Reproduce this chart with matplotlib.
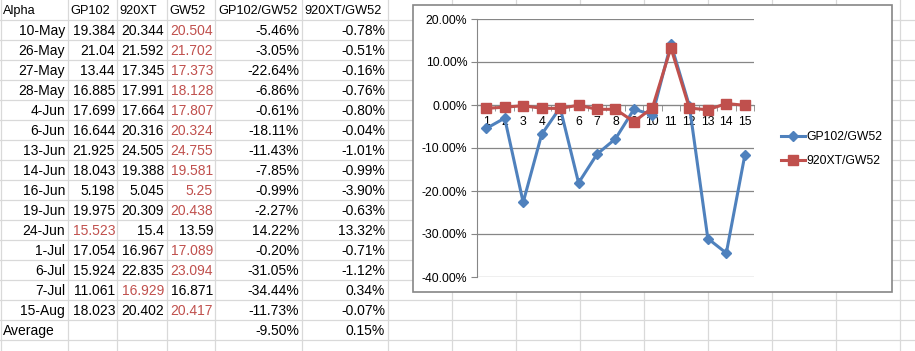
import matplotlib.pyplot as plt
from matplotlib.patches import Rectangle
from matplotlib.ticker import FixedLocator

# table data read from the sheet
dates = ['10-May', '26-May', '27-May', '28-May', '4-Jun', '6-Jun', '13-Jun', '14-Jun',
         '16-Jun', '19-Jun', '24-Jun', '1-Jul', '6-Jul', '7-Jul', '15-Aug']
gp102 = [19.384, 21.04, 13.44, 16.885, 17.699, 16.644, 21.925, 18.043,
         5.198, 19.975, 15.523, 17.054, 15.924, 11.061, 18.023]
xt920 = [20.344, 21.592, 17.345, 17.991, 17.664, 20.316, 24.505, 19.388,
         5.045, 20.309, 15.4, 16.967, 22.835, 16.929, 20.402]
gw52 = [20.504, 21.702, 17.373, 18.128, 17.807, 20.324, 24.755, 19.581,
        5.25, 20.438, 13.59, 17.089, 23.094, 16.871, 20.417]
gp_ratio = [-5.46, -3.05, -22.64, -6.86, -0.61, -18.11, -11.43, -7.85,
            -0.99, -2.27, 14.22, -0.20, -31.05, -34.44, -11.73]
xt_ratio = [-0.78, -0.51, -0.16, -0.76, -0.80, -0.04, -1.01, -0.99,
            -3.90, -0.63, 13.32, -0.71, -1.12, 0.34, -0.07]
avg_gp = -9.50
avg_xt = 0.15
headers = ['Alpha', 'GP102', '920XT', 'GW52', 'GP102/GW52', '920XT/GW52']
yticks = [-40, -30, -20, -10, 0, 10, 20]

plt.rcParams['font.family'] = ['Liberation Sans', 'DejaVu Sans']

W, H = 915, 351
fig = plt.figure(figsize=(W / 100, H / 100), dpi=100)
bg = fig.add_axes([0, 0, 1, 1])
bg.set_xlim(0, W)
bg.set_ylim(H, 0)
bg.axis('off')

# spreadsheet grid
col_edges = [0.5, 68, 117, 166.5, 215, 302, 388, 452, 516, 580, 644, 708, 772, 836, 900]
grid_c = '#d9d9d9'
for x in col_edges:
    bg.plot([x, x], [0, H], color=grid_c, lw=0.9)
for k in range(18):
    y = 19.5 + 20 * k
    bg.plot([0, W], [y, y], color=grid_c, lw=0.9)

red = '#c0504d'
fs = 10
ty = lambda r: r * 20 + 11

# header row (narrower font so the long headers fit like Calibri does)
hx = [3, 70, 119, 169, 218, 304]
for x, h in zip(hx, headers):
    bg.text(x, ty(0), h, ha='left', va='center', fontsize=9.2)

right = [65, 115, 164, 213, 299, 385]
for i in range(len(dates)):
    r = i + 1
    vals = [gp102[i], xt920[i], gw52[i]]
    mx = max(vals)
    bg.text(right[0], ty(r), dates[i], ha='right', va='center', fontsize=fs)
    for j, v in enumerate(vals):
        bg.text(right[j + 1], ty(r), str(v), ha='right', va='center', fontsize=fs,
                color=red if v == mx else 'black')
    bg.text(right[4], ty(r), f'{gp_ratio[i]:.2f}%', ha='right', va='center', fontsize=fs)
    bg.text(right[5], ty(r), f'{xt_ratio[i]:.2f}%', ha='right', va='center', fontsize=fs)

r = len(dates) + 1
bg.text(3, ty(r), 'Average', ha='left', va='center', fontsize=fs)
bg.text(right[4], ty(r), f'{avg_gp:.2f}%', ha='right', va='center', fontsize=fs)
bg.text(right[5], ty(r), f'{avg_xt:.2f}%', ha='right', va='center', fontsize=fs)

# chart box
bg.add_patch(Rectangle((413, 4.5), 479, 287.5, facecolor='white', edgecolor='#868686',
                       lw=1.2, zorder=5))

# chart
ax = fig.add_axes([477 / W, 1 - 277 / H, (754 - 477) / W, (277 - 19) / H])
ax.patch.set_alpha(0)
xs = list(range(1, len(dates) + 1))
ax.plot(xs, gp_ratio, color='#4f81bd', lw=2.2, marker='D', ms=5.5, label='GP102/GW52', zorder=3)
ax.plot(xs, xt_ratio, color='#c0504d', lw=2.2, marker='s', ms=6.5, label='920XT/GW52', zorder=4)
ax.set_xlim(0.5, len(dates) + 0.5)
ax.set_ylim(-40, 20)
ax.set_yticks(yticks)
ax.set_yticklabels([f'{v:.2f}%' for v in yticks], fontsize=8.8)
ax.yaxis.grid(True, color='#868686', lw=0.9)
ax.set_axisbelow(True)
for s in ['top', 'right']:
    ax.spines[s].set_visible(False)
ax.spines['left'].set_color('#868686')
ax.spines['bottom'].set_color('#868686')
ax.spines['bottom'].set_position(('data', 0))
ax.tick_params(axis='y', length=4, color='#868686', pad=3)
ax.set_xticks(xs)
ax.set_xticklabels([str(x) for x in xs], fontsize=8.8)
ax.tick_params(axis='x', which='major', length=0, pad=8)
ax.xaxis.set_minor_locator(FixedLocator([x + 0.5 for x in range(0, len(dates) + 1)]))
ax.tick_params(axis='x', which='minor', length=4, color='#868686', direction='out')

fig.legend(loc='center left', bbox_to_anchor=(770 / W, 1 - 149 / H), frameon=False,
           fontsize=8.8, handlelength=2.0, handletextpad=0.1, labelspacing=1.0)

fig.savefig('out.png', dpi=100)
